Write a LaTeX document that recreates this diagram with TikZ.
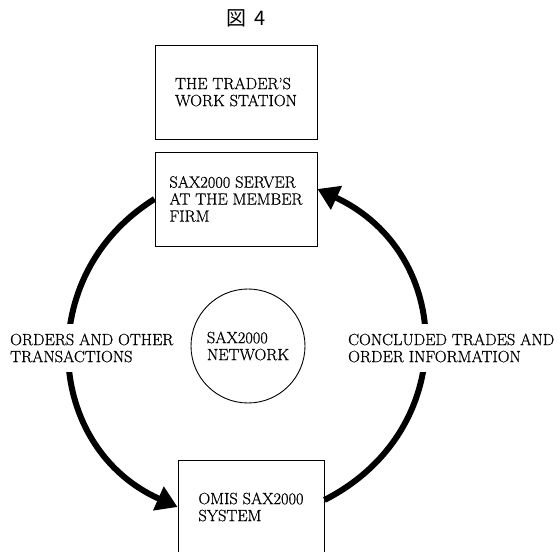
\documentclass[tikz,border=0pt]{standalone}
\usepackage{fontspec}
\setmainfont{Latin Modern Roman}[FakeBold=0.8]
\newfontfamily\jpfont{Noto Sans CJK JP}
\usetikzlibrary{arrows.meta,backgrounds}

\tikzset{
  box/.style={draw, line width=0.9pt, minimum width=162pt, minimum height=94pt, align=left, inner sep=0pt},
  flowtext/.style={fill=white, align=left, inner xsep=2pt, inner ysep=10pt},
  flow/.style={line width=6pt, -{Triangle[length=21pt,width=25pt]}},
}

\begin{document}
\begin{tikzpicture}[x=1pt,y=1pt,font=\fontsize{16.3}{17}\selectfont]
\useasboundingbox (0,0) rectangle (558,552);
\node [font=\jpfont\fontsize{20}{22}\selectfont] (title) at (246,534) {図\hspace{8pt}4};
% the three boxes
\node [box] (trader) at (236,460) {THE TRADER'S\\WORK STATION};
\node [box] (srv) at (236,353) {SAX2000 SERVER\\AT THE MEMBER\\FIRM};
\node [box, minimum width=146pt] (omis) at (251,45) {OMIS SAX2000\\SYSTEM};
\node [draw, circle, line width=0.9pt, minimum size=114pt, align=left, inner sep=0pt] (net) at (248,206) {SAX2000\\NETWORK};
% labels on the ring
\node [flowtext, anchor=west] (orders) at (8,204) {ORDERS AND OTHER\\TRANSACTIONS};
\node [flowtext, anchor=west] (trades) at (346,204) {CONCLUDED TRADES AND\\ORDER INFORMATION};
\begin{scope}[on background layer]
\draw [flow] (srv.west) to [out=212, in=156, looseness=1.2] (omis.west);
\draw [flow] ([yshift=7pt]omis.east) to [out=27, in=335, looseness=1.25] ([yshift=10pt]srv.east);
\end{scope}
\end{tikzpicture}
\end{document}
